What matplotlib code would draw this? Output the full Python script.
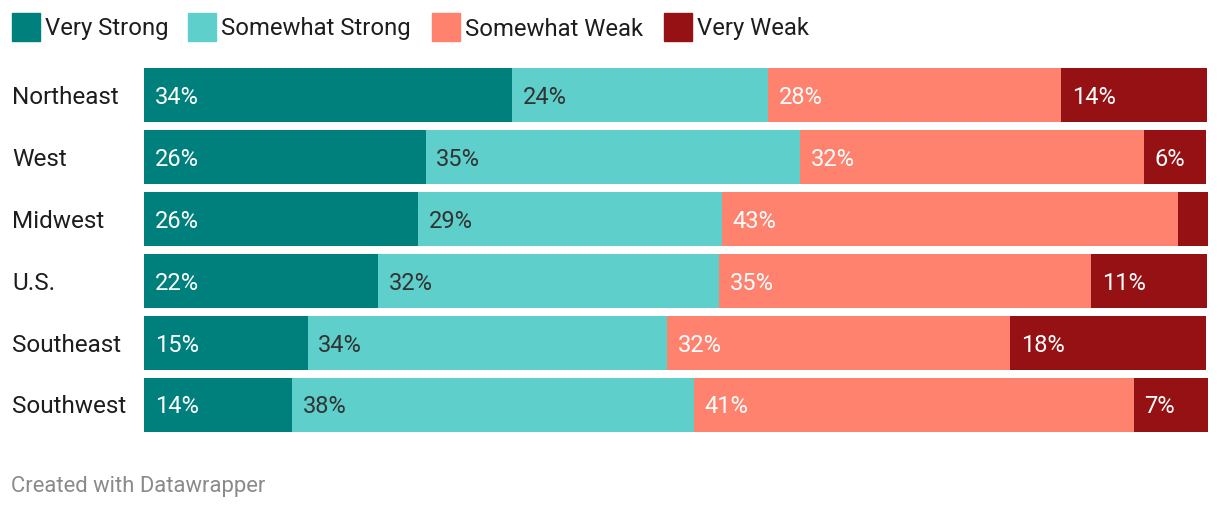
import matplotlib
matplotlib.use("Agg")
import matplotlib.pyplot as plt
from matplotlib.patches import Rectangle
import numpy as np

plt.rcParams['font.family'] = ['Roboto', 'DejaVu Sans']

regions = ["Northeast", "West", "Midwest", "U.S.", "Southeast", "Southwest"]
series = ["Very Strong", "Somewhat Strong", "Somewhat Weak", "Very Weak"]
very_strong = [34.6, 26.5, 25.8, 22.0, 15.4, 13.9]
somewhat_strong = [24.1, 35.2, 28.6, 32.1, 33.8, 37.8]
somewhat_weak = [27.6, 32.4, 42.9, 35.0, 32.3, 41.4]
very_weak = [13.7, 5.8, 2.8, 10.9, 18.4, 7.0]
labels = [
    ["34%", "26%", "26%", "22%", "15%", "14%"],
    ["24%", "35%", "29%", "32%", "34%", "38%"],
    ["28%", "32%", "43%", "35%", "32%", "41%"],
    ["14%", "6%", "", "11%", "18%", "7%"],
]

colors = ["#00807d", "#5ecfca", "#ff826e", "#961114"]
text_colors = ["white", "#333333", "white", "white"]

W, H = 1220, 510
fig = plt.figure(figsize=(W / 100, H / 100), dpi=100)
ax = fig.add_axes([144 / W, 1 - 433 / H, (1208 - 144) / W, (433 - 69) / H])

data = [very_strong, somewhat_strong, somewhat_weak, very_weak]
y = np.arange(len(regions))
bh = 54 / 62
dy = -1.5 / 62  # nudge text up a little
left = np.zeros(len(regions))
for i, vals in enumerate(data):
    vals = np.array(vals)
    ax.barh(y, vals, left=left, height=bh, color=colors[i], linewidth=0)
    for j, v in enumerate(vals):
        if labels[i][j]:
            ax.text(left[j] + 1.0, y[j] + dy, labels[i][j], ha="left",
                    va="center_baseline", fontsize=17, color=text_colors[i])
    left += vals

total = left.max()
ax.set_xlim(0, total)
ax.set_ylim(len(regions) - 1 + bh / 2, -bh / 2)
ax.axis("off")

for j, r in enumerate(regions):
    ax.text(-132 / 1064 * total, y[j] + dy, r, ha="left", va="center_baseline",
            fontsize=17.5, color="#1d1d1d")

# legend
sq_x = [12, 188, 432, 664]
for i, s in enumerate(series):
    fig.patches.append(Rectangle((sq_x[i] / W, 1 - 42 / H), 28 / W, 28 / H,
                                 transform=fig.transFigure, color=colors[i]))
    fig.text((sq_x[i] + 33) / W, 1 - 26.5 / H, s, ha="left",
             va="center_baseline", fontsize=17.2, color="#1d1d1d")

fig.text(11 / W, 1 - 484.5 / H, "Created with Datawrapper", ha="left",
         va="center_baseline", fontsize=15.8, color="#8a8a8a")

fig.savefig("out.png", dpi=100, facecolor="white")
